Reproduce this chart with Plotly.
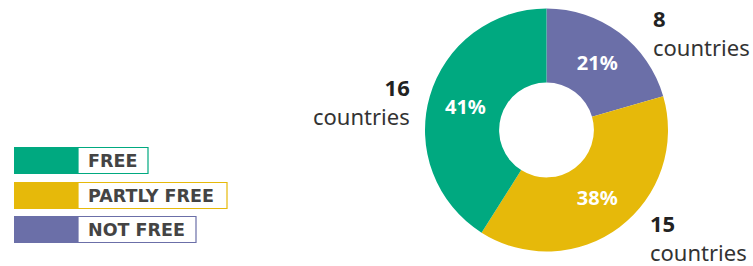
import plotly.graph_objects as go

W, H = 753, 266

categories = ["NOT FREE", "PARTLY FREE", "FREE"]
counts = [8, 15, 16]
colors = ["#6B6FA8", "#E6B90A", "#00A980"]

legend_order = ["FREE", "PARTLY FREE", "NOT FREE"]
legend_colors = ["#00A980", "#E6B90A", "#6B6FA8"]
legend_box_right = [148, 227, 196]

FONT = "Noto Sans"
LEGEND_FONT = "DejaVu Sans"

def px(x):
    return x / W

def py(y):
    return 1 - y / H

fig = go.Figure()
fig.add_trace(go.Pie(
    labels=categories, values=counts, marker=dict(colors=colors, line=dict(width=0)),
    hole=0.39, sort=False, direction="clockwise", rotation=0,
    texttemplate="%{percent:.0%}", textposition="inside", insidetextorientation="horizontal",
    textfont=dict(family=FONT, size=20, color="white", weight="bold"),
    domain=dict(x=[px(425), px(668)], y=[py(252), py(8)]),
    showlegend=False, hoverinfo="label+value+percent",
))

shapes = []
annotations = []
tops = [147, 182, 216]
for name, col, right, top in zip(legend_order, legend_colors, legend_box_right, tops):
    bottom = top + 27
    shapes.append(dict(type="rect", xref="paper", yref="paper",
                       x0=px(14), x1=px(78), y0=py(bottom), y1=py(top),
                       fillcolor=col, line=dict(width=0)))
    shapes.append(dict(type="rect", xref="paper", yref="paper",
                       x0=px(78), x1=px(right), y0=py(bottom - 0.5), y1=py(top + 0.5),
                       fillcolor="white", line=dict(width=1.2, color=col), opacity=1))
    annotations.append(dict(text=name, xref="paper", yref="paper",
                            x=px(86), y=py((top + bottom) / 2), xanchor="left", yanchor="middle",
                            showarrow=False,
                            font=dict(family=LEGEND_FONT, size=17.5, color="#444444", weight="bold")))

# (count, x, center y of the two-line label, anchor)
count_labels = [("8", 651, 32, "left"), ("16", 412, 101, "right"), ("15", 648, 237, "left")]
for num, x, y, anchor in count_labels:
    annotations.append(dict(
        text=f"<span style='color:#222222'><b>{num}</b></span><br>countries",
        xref="paper", yref="paper", x=px(x), y=py(y),
        xanchor=anchor, yanchor="middle", align=anchor, showarrow=False,
        font=dict(family=FONT, size=22, color="#333333")))

fig.update_layout(
    width=W, height=H, margin=dict(l=0, r=0, t=0, b=0),
    paper_bgcolor="white", plot_bgcolor="white",
    shapes=shapes, annotations=annotations,
)
fig.write_html("out.html", config={"displayModeBar": False},
               post_script="document.body.style.margin='0';document.body.style.overflow='hidden';")
